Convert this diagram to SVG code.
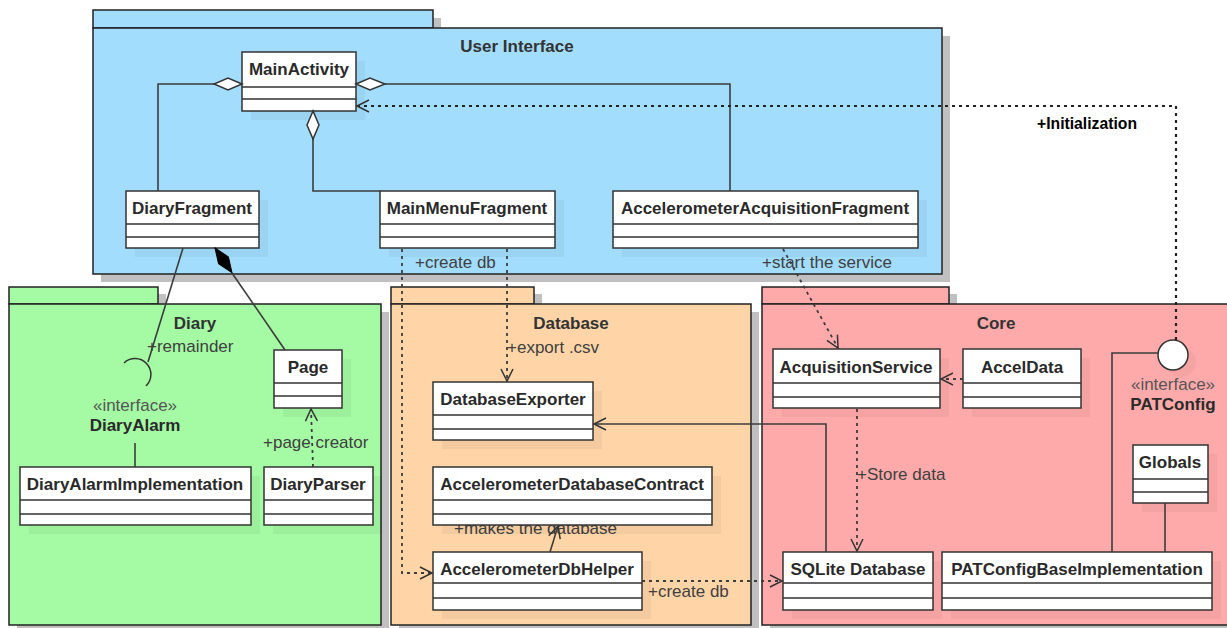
<svg xmlns="http://www.w3.org/2000/svg" width="1227" height="628" viewBox="0 0 1227 628">
  <style>
    text { font-family: "Liberation Sans", Arial, sans-serif; }
    .pkg { stroke: #222; stroke-width: 1.5; }
    .pkgShadow { fill: #c0c0c0; }
    .pkgTitle { font-size: 17px; font-weight: bold; fill: #333; text-anchor: middle; }
    .box { fill: #fff; stroke: #333; stroke-width: 1.5; }
    .boxShadow { fill: #000; fill-opacity: 0.045; }
    .sep { stroke: #333; stroke-width: 1.5; }
    .name { font-size: 17px; font-weight: bold; fill: #2a2a2a; text-anchor: middle; }
    .stereo { font-size: 17px; fill: #555; text-anchor: middle; }
    .lbl { font-size: 17px; fill: #404040; }
    .solid { fill: none; stroke: #3c3c3c; stroke-width: 1.6; }
    .dash { fill: none; stroke: #3c3c3c; stroke-width: 1.8; stroke-dasharray: 3 4; }
    .dot { fill: none; stroke: #222; stroke-width: 2.2; stroke-dasharray: 3 4; }
    .hollow { fill: #fff; stroke: #333; stroke-width: 1.5; }
  </style>
  <defs>
    <marker id="open" markerUnits="userSpaceOnUse" markerWidth="14" markerHeight="14" refX="12" refY="6" orient="auto" overflow="visible">
      <path d="M0,0 L12,6 L0,12" fill="none" stroke="#333" stroke-width="1.5"/>
    </marker>
  </defs>

  <!-- packages -->
  <g id="pkg-user-interface">
    <path class="pkgShadow" d="M101,18 H441 V36 H950 V282 H101 Z"/>
    <rect class="pkg" x="93" y="10" width="340" height="18" fill="#a3ddfe"/>
    <rect class="pkg" x="93" y="28" width="849" height="246" fill="#a3ddfe"/>
    <text class="pkgTitle" x="517" y="52">User Interface</text>
  </g>
  <g id="pkg-diary">
    <path class="pkgShadow" d="M17,294 H166 V312 H389 V633 H17 Z"/>
    <rect class="pkg" x="9" y="287" width="149" height="17" fill="#a4fba4"/>
    <rect class="pkg" x="9" y="304" width="372" height="321" fill="#a4fba4"/>
    <text class="pkgTitle" x="195" y="329">Diary</text>
  </g>
  <g id="pkg-database">
    <path class="pkgShadow" d="M399,294 H542 V312 H759 V633 H399 Z"/>
    <rect class="pkg" x="391" y="287" width="143" height="17" fill="#ffd5a8"/>
    <rect class="pkg" x="391" y="304" width="360" height="321" fill="#ffd5a8"/>
    <text class="pkgTitle" x="571" y="329">Database</text>
  </g>
  <g id="pkg-core">
    <path class="pkgShadow" d="M770,294 H957 V312 H1240 V633 H770 Z"/>
    <rect class="pkg" x="762" y="287" width="187" height="17" fill="#ffaaaa"/>
    <rect class="pkg" x="762" y="304" width="475" height="321" fill="#ffaaaa"/>
    <text class="pkgTitle" x="996" y="329">Core</text>
  </g>

  <!-- connector labels -->
  <g id="labels">
    <text class="lbl" x="415" y="268">+create db</text>
    <text class="lbl" x="507" y="353">+export .csv</text>
    <text class="lbl" x="762" y="268">+start the service</text>
    <text class="lbl" x="147" y="352">+remainder</text>
    <text class="lbl" x="263" y="448">+page creator</text>
    <text class="lbl" x="454" y="534">+makes the database</text>
    <text class="lbl" x="648" y="597">+create db</text>
    <text class="lbl" x="857" y="480">+Store data</text>
    <text x="1037" y="129" font-size="17" font-weight="bold" fill="#000" textLength="100" lengthAdjust="spacingAndGlyphs">+Initialization</text>
  </g>

  <!-- classes -->
  <g id="MainActivity">
    <rect class="boxShadow" x="251" y="61" width="114" height="59"/>
    <rect class="box" x="242" y="52" width="114" height="59"/>
    <path class="sep" d="M242,87 H356 M242,99 H356"/>
    <text class="name" x="299" y="75">MainActivity</text>
  </g>
  <g id="DiaryFragment">
    <rect class="boxShadow" x="135" y="200" width="133" height="57"/>
    <rect class="box" x="126" y="191" width="133" height="57"/>
    <path class="sep" d="M126,224 H259 M126,237 H259"/>
    <text class="name" x="192" y="214">DiaryFragment</text>
  </g>
  <g id="MainMenuFragment">
    <rect class="boxShadow" x="389" y="200" width="175" height="57"/>
    <rect class="box" x="380" y="191" width="175" height="57"/>
    <path class="sep" d="M380,224 H555 M380,237 H555"/>
    <text class="name" x="467" y="214">MainMenuFragment</text>
  </g>
  <g id="AccelerometerAcquisitionFragment">
    <rect class="boxShadow" x="622" y="200" width="305" height="57"/>
    <rect class="box" x="613" y="191" width="305" height="57"/>
    <path class="sep" d="M613,224 H918 M613,237 H918"/>
    <text class="name" x="765" y="214">AccelerometerAcquisitionFragment</text>
  </g>

  <g id="DiaryAlarm">
    <path d="M124,363 A15,15 0 0 1 146,386" fill="none" stroke="#333" stroke-width="1.5"/>
    <text class="stereo" x="135" y="411">«interface»</text>
    <text class="name" x="135" y="431">DiaryAlarm</text>
  </g>
  <g id="Page">
    <rect class="boxShadow" x="283" y="359" width="68" height="58"/>
    <rect class="box" x="274" y="350" width="68" height="58"/>
    <path class="sep" d="M274,383 H342 M274,396 H342"/>
    <text class="name" x="308" y="373">Page</text>
  </g>
  <g id="DiaryAlarmImplementation">
    <rect class="boxShadow" x="29" y="476" width="231" height="58"/>
    <rect class="box" x="20" y="467" width="231" height="58"/>
    <path class="sep" d="M20,500 H251 M20,514 H251"/>
    <text class="name" x="135" y="490">DiaryAlarmImplementation</text>
  </g>
  <g id="DiaryParser">
    <rect class="boxShadow" x="273" y="476" width="109" height="58"/>
    <rect class="box" x="264" y="467" width="109" height="58"/>
    <path class="sep" d="M264,500 H373 M264,514 H373"/>
    <text class="name" x="318" y="490">DiaryParser</text>
  </g>

  <g id="DatabaseExporter">
    <rect class="boxShadow" x="442" y="391" width="160" height="58"/>
    <rect class="box" x="433" y="382" width="160" height="58"/>
    <path class="sep" d="M433,415 H593 M433,429 H593"/>
    <text class="name" x="513" y="405">DatabaseExporter</text>
  </g>
  <g id="AccelerometerDatabaseContract">
    <rect class="boxShadow" x="442" y="476" width="279" height="58"/>
    <rect class="box" x="433" y="467" width="279" height="58"/>
    <path class="sep" d="M433,500 H712 M433,514 H712"/>
    <text class="name" x="572" y="490">AccelerometerDatabaseContract</text>
  </g>
  <g id="AccelerometerDbHelper">
    <rect class="boxShadow" x="442" y="561" width="209" height="58"/>
    <rect class="box" x="433" y="552" width="209" height="58"/>
    <path class="sep" d="M433,583 H642 M433,598 H642"/>
    <text class="name" x="537" y="575">AccelerometerDbHelper</text>
  </g>

  <g id="AcquisitionService">
    <rect class="boxShadow" x="782" y="358" width="167" height="59"/>
    <rect class="box" x="773" y="349" width="167" height="59"/>
    <path class="sep" d="M773,383 H940 M773,397 H940"/>
    <text class="name" x="856" y="373">AcquisitionService</text>
  </g>
  <g id="AccelData">
    <rect class="boxShadow" x="972" y="358" width="118" height="59"/>
    <rect class="box" x="963" y="349" width="118" height="59"/>
    <path class="sep" d="M963,383 H1081 M963,397 H1081"/>
    <text class="name" x="1022" y="373">AccelData</text>
  </g>
  <g id="PATConfig">
    <circle cx="1181" cy="362" r="15" fill="#000" fill-opacity="0.04"/>
    <circle cx="1173" cy="355" r="15" fill="#fff" stroke="#333" stroke-width="1.5"/>
    <text class="stereo" x="1173" y="390">«interface»</text>
    <text class="name" x="1173" y="410">PATConfig</text>
  </g>
  <g id="Globals">
    <rect class="boxShadow" x="1142" y="454" width="75" height="58"/>
    <rect class="box" x="1133" y="445" width="75" height="58"/>
    <path class="sep" d="M1133,479 H1208 M1133,492 H1208"/>
    <text class="name" x="1170" y="468">Globals</text>
  </g>
  <g id="SQLiteDatabase">
    <rect class="boxShadow" x="792" y="561" width="150" height="58"/>
    <rect class="box" x="783" y="552" width="150" height="58"/>
    <path class="sep" d="M783,583 H933 M783,598 H933"/>
    <text class="name" x="858" y="575">SQLite Database</text>
  </g>
  <g id="PATConfigBaseImplementation">
    <rect class="boxShadow" x="951" y="561" width="270" height="58"/>
    <rect class="box" x="942" y="552" width="270" height="58"/>
    <path class="sep" d="M942,583 H1212 M942,598 H1212"/>
    <text class="name" x="1077" y="575">PATConfigBaseImplementation</text>
  </g>

  <!-- connectors -->
  <g id="connectors">
    <!-- aggregations into MainActivity -->
    <path class="solid" d="M214,84 H158 V191"/>
    <polygon class="hollow" points="242,84 228,78 214,84 228,90"/>
    <path class="solid" d="M313,139 V191 H380"/>
    <polygon class="hollow" points="313,111 307,125 313,139 319,125"/>
    <path class="solid" d="M385,84 H730 V191"/>
    <polygon class="hollow" points="356,84 370,78 385,84 370,90"/>

    <!-- initialization dependency from PATConfig -->
    <path class="dot" d="M1176,340 V106 H357" marker-end="url(#open)"/>

    <!-- diary package -->
    <path class="solid" d="M183,248 L148,362"/>
    <path class="solid" d="M232,273 L285,350"/>
    <polygon points="0,0 15,-6 30,0 15,6" fill="#000" stroke="#000" stroke-width="1" transform="translate(215,248) rotate(55.5)"/>
    <path class="solid" d="M135,443 V467"/>
    <path class="dash" d="M313,467 L311,409" marker-end="url(#open)"/>

    <!-- database package -->
    <path class="dash" d="M402,249 V573 H432" marker-end="url(#open)"/>
    <path class="dash" d="M507,249 V381" marker-end="url(#open)"/>
    <path class="solid" d="M550,552 L558,526" marker-end="url(#open)"/>
    <path class="dash" d="M642,581 H782" marker-end="url(#open)"/>
    <path class="solid" d="M826,552 V424 H594" marker-end="url(#open)"/>

    <!-- core package -->
    <path class="dash" d="M783,249 L838,348" marker-end="url(#open)"/>
    <path class="dash" d="M963,379 H941" marker-end="url(#open)"/>
    <path class="dash" d="M857,409 V551" marker-end="url(#open)"/>
    <path class="solid" d="M1158,353 H1112 V552"/>
    <path class="solid" d="M1165,503 V552"/>
  </g>
</svg>
